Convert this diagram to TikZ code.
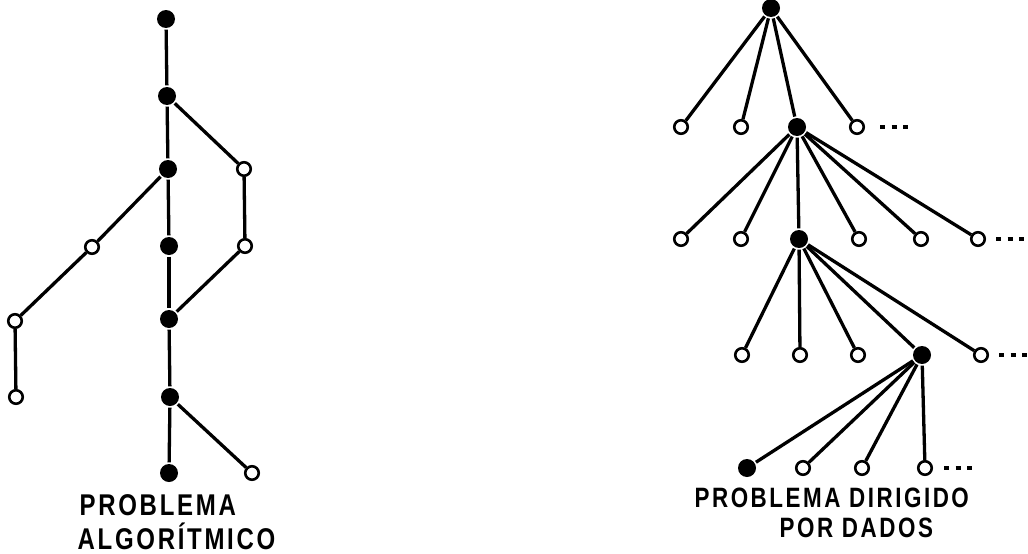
\documentclass[tikz,border=0pt]{standalone}
\usepackage{fontspec}
\usetikzlibrary{graphs}
\newfontfamily\capfont[FakeStretch=0.8,LetterSpace=9]{Liberation Sans}
\tikzset{
    x=1pt, y=-1pt,
    full/.style={circle, fill, inner sep=0pt, minimum size=18pt},
    hollow/.style={circle, draw, fill=white, line width=2.6pt, inner sep=0pt, minimum size=13.5pt},
    more/.style={line width=3.2pt, dash pattern=on 5pt off 6.5pt},
    caption/.style={inner sep=0pt, anchor=base west, font=\capfont\bfseries\fontsize{#1}{#1}\selectfont},
}

\begin{document}
\begin{tikzpicture}[line width=3.3pt]
    \useasboundingbox (0,0) rectangle (1028,554);

    % algorithmic problem: one path through the search
    \node[full] (a1) at (166,19) {};
    \node[full] (a2) at (167,96) {};
    \node[full] (a3) at (168,169) {};
    \node[full] (a4) at (169,246) {};
    \node[full] (a5) at (169,319) {};
    \node[full] (a6) at (170,397) {};
    \node[full] (a7) at (169,473) {};
    \node[hollow] (b1) at (244,169) {};
    \node[hollow] (b2) at (245,246) {};
    \node[hollow] (c1) at (92,247) {};
    \node[hollow] (c2) at (15,321) {};
    \node[hollow] (c3) at (16,397) {};
    \node[hollow] (d1) at (252,473) {};

    \graph[use existing nodes] {
        a1 -- a2 -- a3 -- a4 -- a5 -- a6 -- a7;
        a2 -- b1 -- b2 -- a5;
        a3 -- c1 -- c2 -- c3;
        a6 -- d1;
    };

    \node[caption=30] (algA) at (78,515) {PROBLEMA};
    \node[caption=30] (algB) at (76,549) {ALGORÍTMICO};

    % data driven problem: wide fan-out at every level
    \node[full] (r0) at (771,8) {};
    \node[full] (r1) at (797,127) {};
    \node[full] (r2) at (799,239) {};
    \node[full] (r3) at (922,355) {};
    \node[full] (r4) at (747,468) {};

    \node[hollow] (p1) at (681,127) {};
    \node[hollow] (p2) at (741,127) {};
    \node[hollow] (p3) at (857,127) {};

    \node[hollow] (q1) at (681,239) {};
    \node[hollow] (q2) at (741,239) {};
    \node[hollow] (q3) at (859,239) {};
    \node[hollow] (q4) at (921,239) {};
    \node[hollow] (q5) at (978,239) {};

    \node[hollow] (s1) at (742,355) {};
    \node[hollow] (s2) at (800,355) {};
    \node[hollow] (s3) at (858,355) {};
    \node[hollow] (s4) at (981,355) {};

    \node[hollow] (t1) at (803,468) {};
    \node[hollow] (t2) at (862,468) {};
    \node[hollow] (t3) at (925,468) {};

    \graph[use existing nodes] {
        r0 -- {p1, p2, r1, p3};
        r1 -- {q1, q2, r2, q3, q4, q5};
        r2 -- {s1, s2, s3, r3, s4};
        r3 -- {r4, t1, t2, t3};
    };

    % the dashes after the last child
    \draw[more] (p3.east) ++(15,0) -- ++(28,0);
    \draw[more] (q5.east) ++(10,0) -- ++(31,0);
    \draw[more] (s4.east) ++(10,0) -- ++(30,0);
    \draw[more] (t3.east) ++(11,0) -- ++(30,0);

    \node[caption=28] (datA) at (693,507) {PROBLEMA DIRIGIDO};
    \node[caption=28] (datB) at (778,537) {POR DADOS};
\end{tikzpicture}
\end{document}
